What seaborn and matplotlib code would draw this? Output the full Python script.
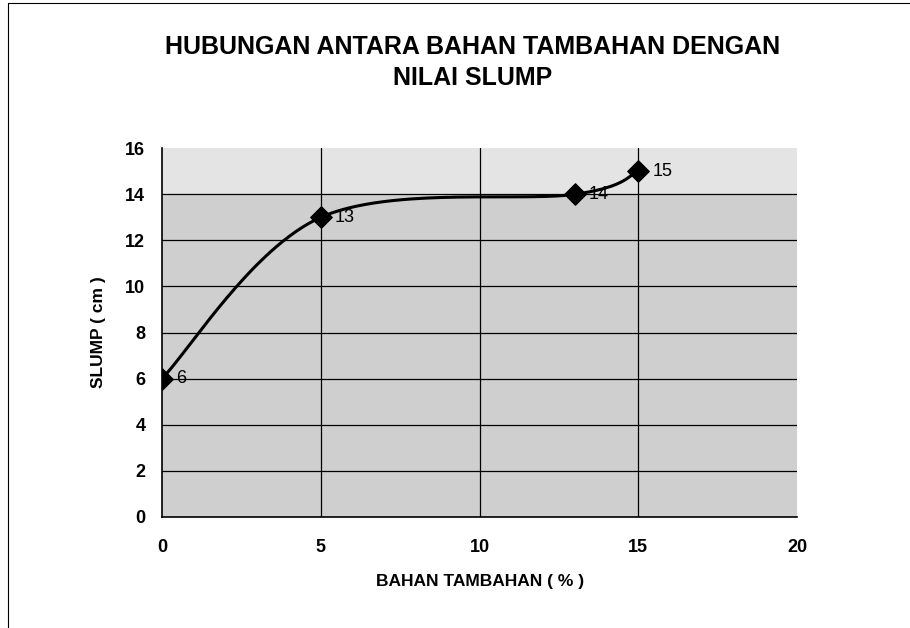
import numpy as np
import pandas as pd
import seaborn as sns
from matplotlib import pyplot as plt
from matplotlib.lines import Line2D

# data
bahan = [0, 5, 13, 15]        # BAHAN TAMBAHAN (%)
slump = [6, 13, 14, 15]       # SLUMP (cm)
x_ticks = [0, 5, 10, 15, 20]
y_ticks = [0, 2, 4, 6, 8, 10, 12, 14, 16]

title = "HUBUNGAN ANTARA BAHAN TAMBAHAN DENGAN\nNILAI SLUMP"


def smooth_curve(xs, ys, n=60):
    # excel-like smoothed line: cubic bezier through points (catmull-rom controls)
    p = np.column_stack([xs, ys]).astype(float)
    out = []
    for i in range(len(p) - 1):
        p0 = p[i - 1] if i > 0 else p[i]
        p1, p2 = p[i], p[i + 1]
        p3 = p[i + 2] if i + 2 < len(p) else p[i + 1]
        c1 = p1 + (p2 - p0) / 6
        c2 = p2 - (p3 - p1) / 6
        t = np.linspace(0, 1, n)[:, None]
        seg = ((1 - t) ** 3) * p1 + 3 * ((1 - t) ** 2) * t * c1 + 3 * (1 - t) * t ** 2 * c2 + t ** 3 * p2
        out.append(seg)
    seg = np.vstack(out)
    return seg[:, 0], seg[:, 1]


sns.set_theme(style="white")
plt.rcParams["font.family"] = ["Liberation Sans", "DejaVu Sans"]
plt.rcParams["text.color"] = "black"
plt.rcParams["axes.labelcolor"] = "black"
plt.rcParams["xtick.color"] = "black"
plt.rcParams["ytick.color"] = "black"

df = pd.DataFrame({"bahan": bahan, "slump": slump})

fig = plt.figure(figsize=(9.1, 6.28), dpi=100)
ax = fig.add_axes([0.178, 0.177, 0.698, 0.587])
ax.set_facecolor("#cfcfcf")
ax.axhspan(14, 16, color="#e4e4e4", zorder=0)

cx, cy = smooth_curve(bahan, slump)
ax.plot(cx, cy, color="black", lw=2.2, zorder=3)
sns.scatterplot(data=df, x="bahan", y="slump", marker="D", s=120, color="black",
                edgecolor="black", ax=ax, zorder=4, legend=False)

for xv, yv in zip(bahan, slump):
    ax.annotate(str(yv), (xv, yv), xytext=(10, 0), textcoords="offset points",
                va="center", ha="left", fontsize=13, color="black", zorder=5)

ax.set_xlim(0, 20)
ax.set_ylim(0, 16)
ax.set_xticks(x_ticks)
ax.set_yticks(y_ticks)
ax.grid(True, color="black", lw=0.9)
ax.set_axisbelow(True)
ax.get_ygridlines()[-1].set_visible(False)
ax.get_xgridlines()[-1].set_visible(False)
ax.get_xgridlines()[0].set_visible(False)
ax.get_ygridlines()[0].set_visible(False)

for s in ["top", "right"]:
    ax.spines[s].set_visible(False)
for s in ["left", "bottom"]:
    ax.spines[s].set_color("black")
    ax.spines[s].set_linewidth(1.2)

ax.tick_params(axis="y", direction="out", length=4, width=1, labelsize=13, pad=8)
ax.tick_params(axis="x", direction="out", length=4, width=1, labelsize=13, pad=12)
for lab in ax.get_xticklabels() + ax.get_yticklabels():
    lab.set_fontweight("bold")

ax.set_xlabel("BAHAN TAMBAHAN ( % )", fontsize=12.5, fontweight="bold", labelpad=13)
ax.set_ylabel("SLUMP ( cm )", fontsize=12.5, fontweight="bold", labelpad=14)

fig.text(0.519, 0.9, title, ha="center", va="center", fontsize=18,
         fontweight="bold", linespacing=1.35)

# chart border pieces visible in the scan
fig.add_artist(Line2D([8 / 910, 1], [1 - 3 / 628, 1 - 3 / 628], color="black", lw=0.8))
fig.add_artist(Line2D([8 / 910, 8 / 910], [0, 1 - 3 / 628], color="black", lw=0.8))

plt.savefig("out.png", dpi=100)
